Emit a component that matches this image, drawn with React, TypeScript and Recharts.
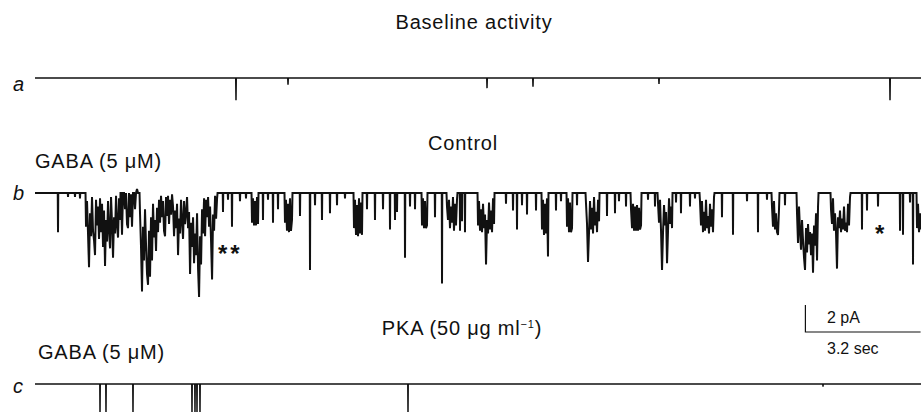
import React from 'react';
import { LineChart, Line, XAxis, YAxis } from 'recharts';

// time in seconds, current in pA (channel openings are downward / negative)
const TRACE_END = 24.611;
const SAMPLE_DT = 0.0278;
const SPIKE_HALF = 0.007;

// a: baseline activity
const aSpikeTimes = [5.583, 7.028, 12.556, 13.833, 17.333, 23.75];
const aSpikeAmps = [-1.65, -0.5, -0.75, -0.65, -0.45, -1.65];

// b: control, GABA 5 uM — brief isolated openings
const bSpikeTimes = [
    0.639, 0.917, 1.111, 1.25, 5.222, 5.361, 5.472, 5.694, 5.861, 6.333, 6.472, 6.611, 6.75,
    7.361, 7.639, 7.778, 7.972, 8.194, 8.389, 8.611, 9.222, 9.444, 9.667, 9.861, 10.0, 10.056,
    10.278, 10.417, 10.556, 11.111, 11.306, 11.806, 11.861, 11.944, 13.083, 13.278, 13.389,
    13.528, 13.667, 13.917, 14.472, 14.611, 15.056, 15.889, 16.111, 16.222, 16.417, 17.028,
    17.222, 17.806, 17.944, 18.194, 18.333, 19.083, 19.389, 19.778, 20.083, 20.333, 20.833,
    22.972, 23.111, 23.417, 24.028, 24.111, 24.306, 24.389,
];
const bSpikeAmps = [
    -2.9, -0.3, -0.3, -0.4, -1.4, -0.5, -2.5, -0.6, -0.4, -2.0, -0.5, -2.2, -1.2,
    -1.7, -5.7, -0.9, -2.0, -1.5, -0.9, -0.4, -1.2, -2.0, -1.2, -2.7, -2.0, -1.4,
    -4.8, -1.0, -1.2, -1.8, -6.7, -2.8, -2.1, -2.9, -0.8, -1.3, -2.7,
    -0.9, -1.6, -1.3, -1.3, -0.6, -0.9, -1.7, -1.5, -0.6, -1.0, -0.5,
    -1.0, -0.7, -1.5, -1.0, -0.4, -1.8, -3.1, -0.6, -2.9, -0.5, -0.9,
    -2.7, -1.3, -1.0, -2.8, -3.1, -0.7, -5.3,
];

// b: bursts of openings, sampled every SAMPLE_DT from their start time
const bBurstStarts = [
    1.417, 2.389, 2.917, 6.028, 6.944, 8.861, 10.75, 11.444, 12.306, 14.083,
    14.778, 15.306, 16.556, 17.306, 18.472, 20.472, 21.167, 22.111, 24.5,
];
const bBurstAmps = [
    [-2.5, -0.6, -3.0, -5.5, -1.5, -3.2, -0.3, -2.8, -3.5, -4.6, -0.5, -2.4, -1.0, -3.4, -0.4, -2.9, -0.8, -4.0,
        -1.3, -5.4, -2.0, -3.6, -0.6, -2.7, -4.1, -0.3, -2.2, -4.8, -1.8, -3.0, -0.2, -2.4, -3.3, -0.4, -2.0],
    [0, -3.1, 0, 0, -1.2, 0, -2.3, -2.6, 0, -1.8, -0.1, -2.5, 0, 0, -1.2, 0, 0.3, 0, 0],
    [-1.5, -4.0, -7.3, -2.5, -5.0, -1.2, -3.8, -6.0, -6.8, -2.8, -6.2, -1.8, -5.0, -0.8, -3.3, -2.0, -4.3, -1.1,
        -2.9, -0.5, -2.2, -0.2, -1.8, -0.6, -2.8, -3.2, -0.3, -1.7, -0.2, -2.3, -0.5, -1.6, -0.1, -1.0, -3.2, -1.3,
        -2.6, -0.8, -4.6, -1.9, -3.0, -0.5, -2.1, -3.4, -0.6, -2.3, -1.5, -0.3, -2.6, -1.4, -6.0, -2.2, -4.0, -1.8,
        -5.2, -3.0, -4.6, -1.5, -5.6, -7.7, -3.2, -5.3, -1.2, -3.0, -0.4, -3.2, -0.5, -1.8, -0.3, -2.5, -1.0, -3.6,
        -6.4, -1.6, -2.8, -0.2, -1.9, -0.4],
    [-2.2, -0.4, -2.4, -0.6, -2.4, -0.3, -2.3],
    [-2.2, -0.5, -2.8, -0.8, -2.9, -0.4, -2.8, -2.0],
    [-2.6, -0.5, -3.1, -0.9, -3.2, -0.4, -3.0, -0.7, -3.1],
    [-2.4, -0.4, -2.6, -0.6, -2.6, -2.4],
    [-1.0, -2.0, -0.5, -2.6, -1.0, -2.2, -0.3, -2.8, -0.8, -2.4, -0.5],
    [-2.4, -0.6, -2.8, -1.2, -2.9, -0.8, -2.6, -1.6, -5.3, -2.0, -3.0, -0.7, -2.7, -1.3, -2.9, -0.4, -2.3],
    [-2.7, -0.5, -3.1, -0.8, -3.0, -0.4, -4.7],
    [-2.5, -0.4, -2.9, -0.7, -2.9, -2.6],
    [-0.8, -2.3, -5.1, -2.9, -0.6, -2.7, -1.1, -3.0, -0.3, -2.4, -1.4, -2.9, -0.5, -2.1],
    [-1.2, -2.6, -0.8, -2.8, -1.0, -2.8, -0.9, -2.8, -1.1, -2.7, -2.4],
    [-0.8, -2.2, -0.5, -2.8, -5.7, -2.9, -0.9, -2.4, -1.4, -5.2, -2.8, -0.4, -2.3, -1.0, -2.6],
    [-0.6, -2.4, -0.6, -2.9, -1.4, -2.8, -0.5, -2.6, -1.7, -3.0, -0.8, -2.5, -1.2, -2.9, -0.3],
    [-1.0, -2.5, -0.6, -2.7, -1.5, -2.9, -3.1, -1.2],
    [-1.5, -3.7, -1.0, -2.8, -4.2, -2.0, -3.5, -4.8, -5.7, -2.6, -4.4, -2.3, -3.8, -2.9, -4.6, -3.0, -5.9, -2.4,
        -3.9, -1.5, -5.0, -1.0],
    [-1.2, -2.3, -0.4, -2.8, -1.5, -2.9, -5.6, -1.8, -2.6, -1.3, -2.9, -1.9, -2.7, -1.0, -2.8, -2.2, -2.9, -0.8,
        -2.4, -0.3],
    [-2.6, -0.8, -2.9, -1.5, -2.7],
];

// c: PKA 50 ug/ml, GABA 5 uM
const cSpikeTimes = [1.806, 1.972, 2.722, 4.361, 4.444, 4.5, 4.583, 10.361, 21.889];
const cSpikeAmps = [-2.6, -2.6, -2.6, -2.6, -2.6, -2.6, -2.6, -2.6, -0.2];

// scale bar
const SCALE_SEC = 3.2;
const SCALE_PA = 2;
const SCALE_ORIGIN = { t: 21.4, I: 3.85 };

type Pt = { t: number; I: number };

const buildTrace = (spikeTimes: number[], spikeAmps: number[], burstStarts: number[] = [], burstAmps: number[][] = []): Pt[] => {
    const pts: Pt[] = [{ t: 0, I: 0 }];
    spikeTimes.forEach((t, i) => {
        pts.push({ t: t - SPIKE_HALF, I: 0 }, { t, I: spikeAmps[i] }, { t: t + SPIKE_HALF, I: 0 });
    });
    burstStarts.forEach((t0, k) => {
        const vals = burstAmps[k];
        pts.push({ t: t0 - SAMPLE_DT / 2, I: 0 });
        vals.forEach((v, j) => pts.push({ t: t0 + j * SAMPLE_DT, I: v }));
        const tEnd = t0 + (vals.length - 1) * SAMPLE_DT + SAMPLE_DT / 2;
        if (tEnd < TRACE_END) pts.push({ t: tEnd, I: 0 });
    });
    pts.sort((p, q) => p.t - q.t);
    if (pts[pts.length - 1].t < TRACE_END - 0.02) pts.push({ t: TRACE_END, I: 0 });
    return pts;
};

const traceA = buildTrace(aSpikeTimes, aSpikeAmps);
const traceB = buildTrace(bSpikeTimes, bSpikeAmps, bBurstStarts, bBurstAmps);
const traceC = buildTrace(cSpikeTimes, cSpikeAmps);
const scaleBar: Pt[] = [
    { t: SCALE_ORIGIN.t, I: SCALE_ORIGIN.I + SCALE_PA },
    { t: SCALE_ORIGIN.t, I: SCALE_ORIGIN.I },
    { t: SCALE_ORIGIN.t + SCALE_SEC, I: SCALE_ORIGIN.I },
];

const FONT = '"Liberation Sans", Arial, Helvetica, sans-serif';
const INK = '#111';

const Txt = ({ x, y, size, center, italic, bold, spacing, children }: any) => (
    <div
        style={{
            position: 'absolute',
            left: x,
            top: y,
            fontSize: size,
            lineHeight: 1,
            fontFamily: FONT,
            fontStyle: italic ? 'italic' : 'normal',
            fontWeight: bold ? 700 : 400,
            letterSpacing: spacing || 0,
            whiteSpace: 'nowrap',
            color: INK,
            transform: center ? 'translate(-50%, -50%)' : 'translate(0, -50%)',
        }}
    >
        {children}
    </div>
);

const Trace = ({ data, top, height, domain, strokeWidth, extra }: { data: Pt[]; top: number; height: number; domain: [number, number]; strokeWidth: number; extra?: Pt[] }) => (
    <div style={{ position: 'absolute', left: 35, top }}>
        <LineChart width={886} height={height} margin={{ top: 0, right: 0, bottom: 0, left: 0 }}>
            <XAxis type="number" dataKey="t" domain={[0, TRACE_END]} hide allowDataOverflow />
            <YAxis type="number" domain={domain} hide allowDataOverflow />
            <Line data={data} dataKey="I" type="linear" stroke={INK} strokeWidth={strokeWidth} strokeLinejoin="miter" dot={false} isAnimationActive={false} />
            {extra && (
                <Line data={extra} dataKey="I" type="linear" stroke={INK} strokeWidth={1.2} dot={false} isAnimationActive={false} />
            )}
        </LineChart>
    </div>
);

export default function App() {
    return (
        <div style={{ position: 'absolute', left: 0, top: 0, width: 921, height: 412, overflow: 'hidden', background: '#fff' }}>
            <Txt x={474} y={22} size={20} spacing={0.8} center>Baseline activity</Txt>

            <Txt x={13} y={84} size={20} italic>a</Txt>
            <Trace data={traceA} top={60} height={50} domain={[-2.37, 1.333]} strokeWidth={1.5} />

            <Txt x={463} y={143} size={20} spacing={0.8} center>Control</Txt>
            <Txt x={35} y={161} size={20} spacing={0.8}>GABA (5 μM)</Txt>
            <Txt x={13} y={193} size={20} italic>b</Txt>
            <Trace data={traceB} top={175} height={130} domain={[-8.296, 1.333]} strokeWidth={2} />
            <Txt x={218} y={254} size={24} bold spacing={3}>**</Txt>
            <Txt x={875} y={234} size={24} bold>*</Txt>

            <Txt x={462} y={328} size={20} spacing={0.8} center>
                PKA (50 μg ml<span style={{ fontSize: '0.55em', position: 'relative', top: '-0.6em' }}>−1</span>)
            </Txt>
            <Txt x={38} y={352} size={20} spacing={0.8}>GABA (5 μM)</Txt>
            <Txt x={13} y={386} size={20} italic>c</Txt>
            <Trace data={traceC} top={300} height={112} domain={[-2.074, 6.222]} strokeWidth={1.4} extra={scaleBar} />
            <Txt x={827} y={318} size={16}>2 pA</Txt>
            <Txt x={827} y={349} size={16}>3.2 sec</Txt>
        </div>
    );
}
